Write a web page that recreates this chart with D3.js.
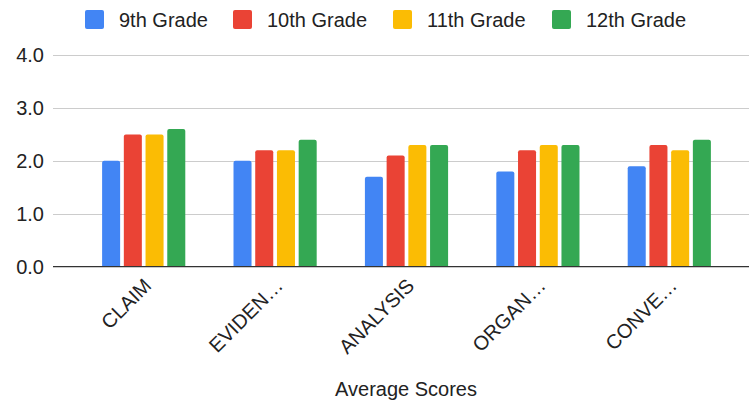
<!DOCTYPE html>
<html>
<head>
<meta charset="utf-8">
<script src="https://cdn.jsdelivr.net/npm/d3@7"></script>
<style>
  html, body { margin: 0; padding: 0; background: #fff; }
  svg { display: block; font-family: "Liberation Sans", Arial, sans-serif; }
</style>
</head>
<body>
<svg id="chart" width="749" height="402"></svg>
<script>
const categories = ["CLAIM", "EVIDEN…", "ANALYSIS", "ORGAN…", "CONVE…"];
const seriesNames = ["9th Grade", "10th Grade", "11th Grade", "12th Grade"];
const grade9  = [2.0, 2.0, 1.7, 1.8, 1.9];
const grade10 = [2.5, 2.2, 2.1, 2.2, 2.3];
const grade11 = [2.5, 2.2, 2.3, 2.3, 2.2];
const grade12 = [2.6, 2.4, 2.3, 2.3, 2.4];
const yTicks = [0, 1, 2, 3, 4];
const colors = ["#4285F4", "#EA4335", "#FBBC04", "#34A853"];
const xTitle = "Average Scores";

const seriesValues = [grade9, grade10, grade11, grade12];
const svg = d3.select("#chart");

const y = d3.scaleLinear().domain([0, 4]).range([266.7, 55]);
const x0 = d3.scaleBand().domain(categories).range([78, 735]);
const x1 = d3.scaleBand().domain(seriesNames).range([0, x0.bandwidth()])
  .paddingInner(0.17).paddingOuter(1.11);
const color = d3.scaleOrdinal().domain(seriesNames).range(colors);

// gridlines
svg.append("g").selectAll("line").data(yTicks.filter(d => d !== 0)).join("line")
  .attr("x1", 53).attr("x2", 749)
  .attr("y1", d => Math.round(y(d)) + 0.5).attr("y2", d => Math.round(y(d)) + 0.5)
  .attr("stroke", "#cccccc").attr("stroke-width", 1);

// y labels
svg.append("g").selectAll("text").data(yTicks).join("text")
  .attr("x", 44).attr("y", d => y(d)).attr("dy", "0.35em")
  .attr("text-anchor", "end").attr("font-size", 20).attr("fill", "#222")
  .text(d => d3.format(".1f")(d));

// bars
const groups = svg.append("g").selectAll("g").data(categories).join("g")
  .attr("transform", d => `translate(${x0(d)},0)`);
groups.selectAll("path").data((c, i) => seriesNames.map((s, j) => ({s, v: seriesValues[j][i]}))).join("path")
  .attr("fill", d => color(d.s))
  .attr("d", d => {
    const bx = x1(d.s), bw = x1.bandwidth(), top = y(d.v), bot = y(0), r = 2;
    return `M${bx},${bot}V${top + r}Q${bx},${top} ${bx + r},${top}H${bx + bw - r}Q${bx + bw},${top} ${bx + bw},${top + r}V${bot}Z`;
  });

// baseline
svg.append("line").attr("x1", 53).attr("x2", 749)
  .attr("y1", y(0)).attr("y2", y(0))
  .attr("stroke", "#333").attr("stroke-width", 1.3);

// x labels
svg.append("g").selectAll("text").data(categories).join("text")
  .attr("transform", d => `translate(${x0(d) + x0.bandwidth() / 2 + 4},282) rotate(-45)`)
  .attr("text-anchor", "end").attr("dy", "0.35em")
  .attr("font-size", 20).attr("fill", "#222")
  .text(d => d);

// x title
svg.append("text").attr("x", 406).attr("y", 396).attr("text-anchor", "middle")
  .attr("font-size", 20).attr("fill", "#222").text(xTitle);

// legend
const legendX = [85, 233, 393, 552];
const leg = svg.append("g").selectAll("g").data(seriesNames).join("g")
  .attr("transform", (d, i) => `translate(${legendX[i]},10)`);
leg.append("rect").attr("width", 19).attr("height", 19).attr("rx", 2)
  .attr("fill", d => color(d));
leg.append("text").attr("x", 34).attr("y", 9.5).attr("dy", "0.35em")
  .attr("font-size", 20).attr("fill", "#222").text(d => d);
</script>
</body>
</html>
